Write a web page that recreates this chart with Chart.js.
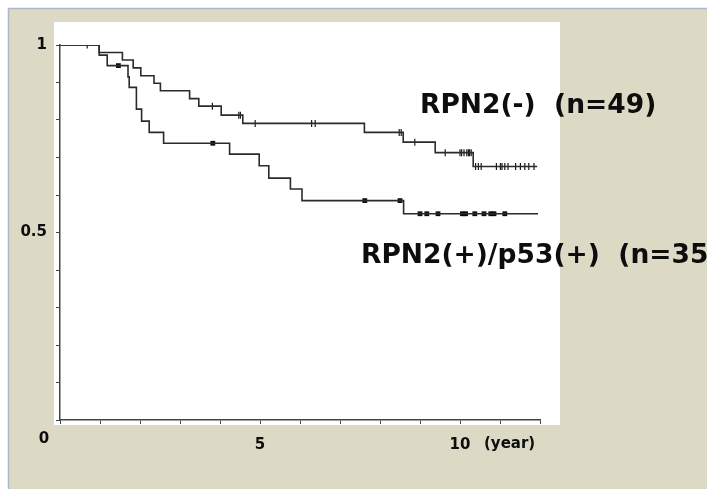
<!DOCTYPE html>
<html>
<head>
<meta charset="utf-8">
<script src="https://cdn.jsdelivr.net/npm/chart.js@4/dist/chart.umd.min.js"></script>
<style>
  html, body { margin: 0; padding: 0; background: #ffffff; }
  #wrap { width: 707px; height: 489px; position: relative; }
</style>
</head>
<body>
<div id="wrap"><canvas id="km" width="707" height="489"></canvas></div>
<script>
    // survival curves (time in years, survival fraction)
    const seriesNames = ['RPN2(-)  (n=49)', 'RPN2(+)/p53(+)  (n=35)'];

    const negTimes = [0, 0.98, 1.56, 1.83, 2.02, 2.35, 2.51, 3.24, 3.47, 4.03, 4.57, 7.61, 8.58, 9.38, 10.33, 11.93];
    const negSurv  = [1, 0.98, 0.96, 0.939, 0.918, 0.898, 0.878, 0.857, 0.837, 0.813, 0.791, 0.767, 0.741, 0.713, 0.676, 0.676];
    const negCensored = [0.68, 3.81, 4.47, 4.51, 4.88, 6.29, 6.38, 8.48, 8.53, 8.87, 9.63, 10.0, 10.04, 10.10, 10.17,
      10.21, 10.24, 10.28, 10.39, 10.46, 10.53, 10.91, 11.01, 11.05, 11.12, 11.20, 11.39, 11.51, 11.62, 11.72, 11.85];

    const posTimes = [0, 0.98, 1.18, 1.70, 1.73, 1.91, 2.04, 2.23, 2.59, 4.24, 4.98, 5.22, 5.76, 6.05, 8.59, 11.95];
    const posSurv  = [1, 0.973, 0.945, 0.915, 0.887, 0.829, 0.797, 0.767, 0.738, 0.709, 0.678, 0.645, 0.616, 0.585, 0.550, 0.550];
    const posCensored = [1.46, 3.82, 7.62, 8.50, 9.00, 9.17, 9.45, 10.06, 10.14, 10.37, 10.60, 10.77, 10.85, 11.12];

    const xTickLabels = { 5: '5', 10: '10' };
    const yTickLabels = { 0.5: '0.5', 1: '1' };

    function toPoints(times, surv) {
      return times.map((t, i) => ({ x: t, y: surv[i] }));
    }

    // censor marks sit on the curve at the time they happen
    function censorPoints(times, surv, censored) {
      return censored.map(c => {
        let s = surv[0];
        for (let i = 0; i < times.length; i++) {
          if (times[i] <= c) s = surv[i];
        }
        return { x: c, y: s };
      });
    }

    const FONT = 'DejaVu Sans';
    const INK = '#0d0d0d';
    const LINE = '#2b2b2b';

    const backdrop = {
      id: 'backdrop',
      beforeDraw(chart) {
        const ctx = chart.ctx;
        ctx.save();
        ctx.fillStyle = '#ffffff';
        ctx.fillRect(0, 0, chart.width, chart.height);
        ctx.fillStyle = '#dcd9c5';
        ctx.fillRect(9, 9, chart.width - 9, chart.height - 9);
        ctx.strokeStyle = '#a9b9cf';
        ctx.lineWidth = 1.5;
        ctx.beginPath();
        ctx.moveTo(8.5, chart.height);
        ctx.lineTo(8.5, 8.5);
        ctx.lineTo(chart.width, 8.5);
        ctx.stroke();
        ctx.fillStyle = '#ffffff';
        ctx.fillRect(54, 22, 506, 403);
        ctx.restore();
      }
    };

    const annotations = {
      id: 'annotations',
      afterDraw(chart) {
        const ctx = chart.ctx;
        const x = chart.scales.x;
        const y = chart.scales.y;
        ctx.save();
        ctx.fillStyle = INK;
        ctx.textBaseline = 'middle';
        ctx.font = 'bold 15px "' + FONT + '"';
        ctx.textAlign = 'center';
        ctx.fillText('0', x.getPixelForValue(0) - 16, y.getPixelForValue(0) + 19);
        ctx.textAlign = 'left';
        ctx.fillText('(year)', x.getPixelForValue(10) + 24, y.getPixelForValue(0) + 24);

        ctx.font = 'bold 26.5px "' + FONT + '"';
        ctx.fillText(chart.data.datasets[0].label, 420, 106);
        ctx.fillText(chart.data.datasets[1].label, 361, 256);
        ctx.restore();
      }
    };

    new Chart(document.getElementById('km'), {
      type: 'line',
      data: {
        datasets: [
          {
            label: seriesNames[0],
            data: toPoints(negTimes, negSurv),
            stepped: 'before',
            borderColor: LINE,
            borderWidth: 1.6,
            pointRadius: 0,
            fill: false
          },
          {
            label: seriesNames[1],
            data: toPoints(posTimes, posSurv),
            stepped: 'before',
            borderColor: LINE,
            borderWidth: 1.6,
            pointRadius: 0,
            fill: false
          },
          {
            label: 'censored-',
            data: censorPoints(negTimes, negSurv, negCensored),
            showLine: false,
            pointStyle: 'line',
            rotation: 90,
            pointRadius: 3.5,
            borderColor: '#1a1a1a',
            borderWidth: 1.2
          },
          {
            label: 'censored+',
            data: censorPoints(posTimes, posSurv, posCensored),
            showLine: false,
            pointStyle: 'rect',
            pointRadius: 3.4,
            backgroundColor: '#0d0d0d',
            borderColor: '#0d0d0d',
            borderWidth: 0
          }
        ]
      },
      options: {
        responsive: false,
        animation: false,
        events: [],
        layout: { padding: { left: 0, top: 45, right: 167, bottom: 0 } },
        plugins: { legend: { display: false }, tooltip: { enabled: false } },
        scales: {
          x: {
            type: 'linear',
            min: 0,
            max: 12,
            afterFit: s => { s.height = 69; },
            ticks: {
              stepSize: 1,
              autoSkip: false,
              maxRotation: 0,
              padding: 12,
              color: INK,
              font: { family: FONT, size: 15, weight: 'bold' },
              callback: v => xTickLabels[v] || ''
            },
            grid: { drawOnChartArea: false, drawTicks: true, tickLength: 4, color: '#444' },
            border: { display: true, color: '#444', width: 1.5 }
          },
          y: {
            type: 'linear',
            min: 0,
            max: 1,
            afterFit: s => { s.width = 60; },
            ticks: {
              stepSize: 0.1,
              autoSkip: false,
              padding: 9,
              color: INK,
              font: { family: FONT, size: 15, weight: 'bold' },
              callback: v => yTickLabels[Math.round(v * 10) / 10] || ''
            },
            grid: { drawOnChartArea: false, drawTicks: true, tickLength: 4, color: '#444' },
            border: { display: true, color: '#444', width: 1.5 }
          }
        }
      },
      plugins: [backdrop, annotations]
    });
</script>
</body>
</html>
